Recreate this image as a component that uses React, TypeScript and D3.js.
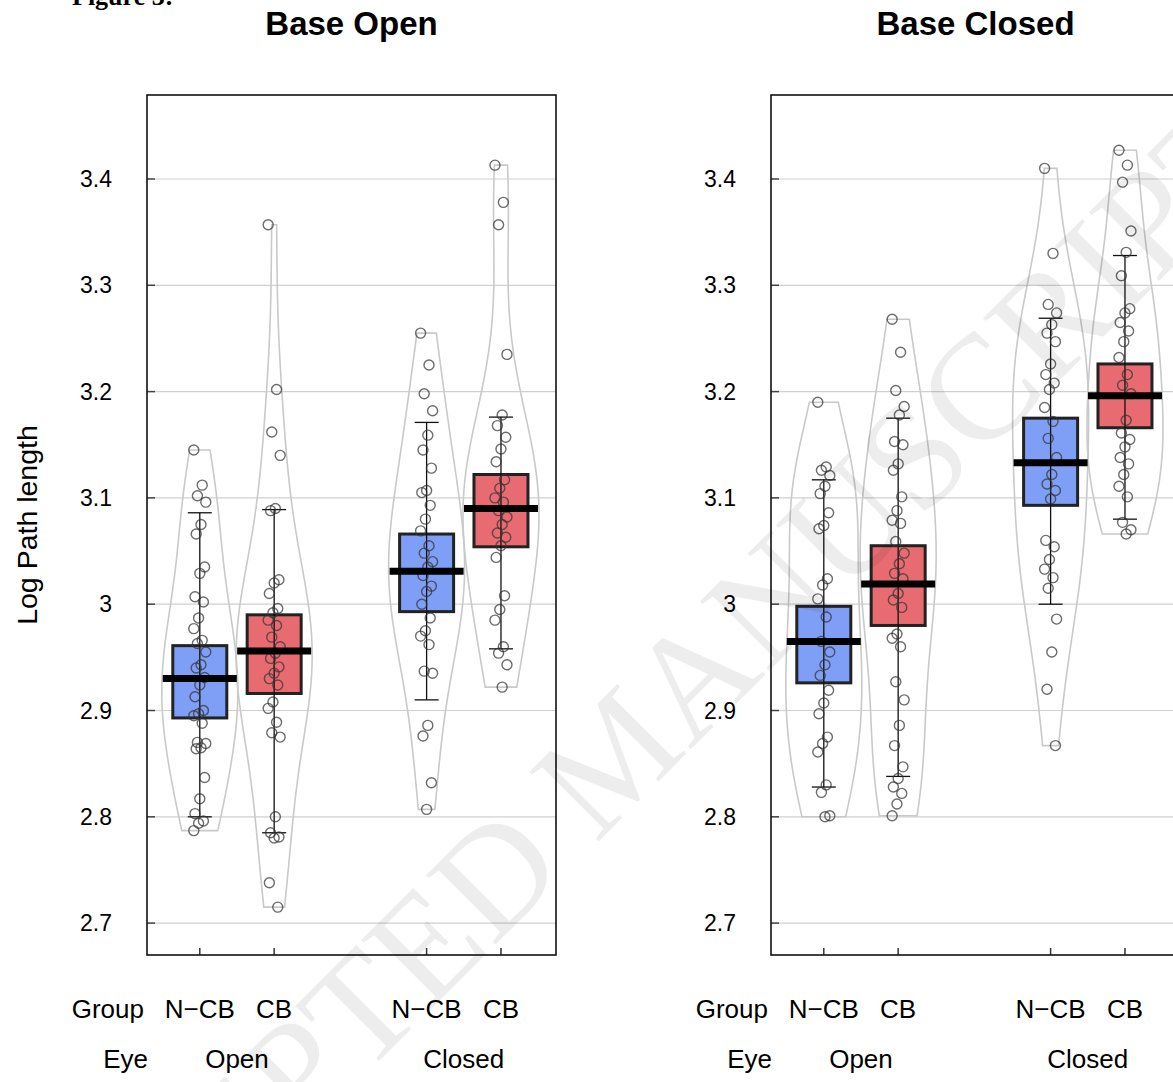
import React from "react";
import * as d3 from "d3";

const panelTitles = ["Base Open", "Base Closed"];
const groupLabels = ["N−CB", "CB", "N−CB", "CB"];
const eyeLabels = ["Open", "Closed"];
const yTicks = [2.7, 2.8, 2.9, 3.0, 3.1, 3.2, 3.3, 3.4];
const yTickLabels = ["2.7", "2.8", "2.9", "3", "3.1", "3.2", "3.3", "3.4"];
const slotPositions = [1, 2, 4.05, 5.05];
const groupColors = ["#7f9ef5", "#e96b72", "#7f9ef5", "#e96b72"];

// Base Open panel – individual log path lengths
const openPanelNcbOpen = [3.145, 3.112, 3.102, 3.096, 3.075, 3.066, 3.035, 3.029, 3.007, 3.002, 2.987, 2.977, 2.966, 2.963, 2.955, 2.943, 2.94, 2.931, 2.924, 2.913, 2.9, 2.897, 2.895, 2.888, 2.87, 2.869, 2.865, 2.864, 2.837, 2.817, 2.803, 2.796, 2.794, 2.787];
const openPanelCbOpen = [3.357, 3.202, 3.162, 3.14, 3.09, 3.088, 3.023, 3.02, 3.01, 2.996, 2.992, 2.985, 2.98, 2.969, 2.96, 2.954, 2.949, 2.941, 2.935, 2.93, 2.924, 2.908, 2.902, 2.889, 2.879, 2.875, 2.8, 2.785, 2.781, 2.78, 2.738, 2.715];
const openPanelNcbClosed = [3.255, 3.225, 3.198, 3.182, 3.159, 3.145, 3.128, 3.107, 3.105, 3.093, 3.08, 3.069, 3.055, 3.048, 3.04, 3.035, 3.027, 3.017, 3.012, 3.0, 2.987, 2.975, 2.97, 2.962, 2.937, 2.935, 2.886, 2.876, 2.832, 2.807];
const openPanelCbClosed = [3.413, 3.378, 3.357, 3.235, 3.178, 3.168, 3.157, 3.146, 3.134, 3.117, 3.109, 3.1, 3.096, 3.088, 3.082, 3.075, 3.067, 3.063, 3.055, 3.044, 3.008, 2.995, 2.985, 2.96, 2.954, 2.943, 2.922];

// Base Closed panel – individual log path lengths
const closedPanelNcbOpen = [3.19, 3.129, 3.126, 3.121, 3.111, 3.104, 3.086, 3.074, 3.071, 3.024, 3.018, 3.005, 2.988, 2.965, 2.955, 2.943, 2.933, 2.919, 2.907, 2.897, 2.875, 2.869, 2.861, 2.83, 2.823, 2.801, 2.8];
const closedPanelCbOpen = [3.268, 3.237, 3.201, 3.186, 3.178, 3.153, 3.15, 3.132, 3.126, 3.101, 3.088, 3.079, 3.076, 3.059, 3.048, 3.038, 3.029, 3.024, 3.01, 3.004, 2.997, 2.972, 2.968, 2.96, 2.927, 2.91, 2.886, 2.867, 2.847, 2.836, 2.828, 2.822, 2.812, 2.801];
const closedPanelNcbClosed = [3.41, 3.33, 3.282, 3.274, 3.263, 3.255, 3.247, 3.226, 3.216, 3.208, 3.202, 3.185, 3.172, 3.156, 3.138, 3.122, 3.113, 3.107, 3.099, 3.06, 3.054, 3.042, 3.033, 3.025, 3.015, 2.986, 2.955, 2.92, 2.867];
const closedPanelCbClosed = [3.427, 3.413, 3.397, 3.351, 3.331, 3.309, 3.278, 3.274, 3.265, 3.257, 3.247, 3.232, 3.216, 3.206, 3.198, 3.173, 3.161, 3.155, 3.148, 3.138, 3.132, 3.122, 3.111, 3.101, 3.077, 3.07, 3.066];

// Summary statistics
const openPanelMeans = [2.93, 2.956, 3.031, 3.09];
const openPanelBoxLow = [2.893, 2.916, 2.993, 3.054];
const openPanelBoxHigh = [2.961, 2.99, 3.066, 3.122];
const openPanelWhiskLow = [2.8, 2.785, 2.91, 2.958];
const openPanelWhiskHigh = [3.086, 3.089, 3.171, 3.176];

const closedPanelMeans = [2.965, 3.019, 3.133, 3.196];
const closedPanelBoxLow = [2.926, 2.98, 3.093, 3.166];
const closedPanelBoxHigh = [2.998, 3.055, 3.175, 3.226];
const closedPanelWhiskLow = [2.828, 2.838, 3.0, 3.08];
const closedPanelWhiskHigh = [3.117, 3.175, 3.269, 3.328];

const panelsData = [
  {
    title: panelTitles[0],
    points: [openPanelNcbOpen, openPanelCbOpen, openPanelNcbClosed, openPanelCbClosed],
    means: openPanelMeans, boxLow: openPanelBoxLow, boxHigh: openPanelBoxHigh,
    whiskLow: openPanelWhiskLow, whiskHigh: openPanelWhiskHigh,
  },
  {
    title: panelTitles[1],
    points: [closedPanelNcbOpen, closedPanelCbOpen, closedPanelNcbClosed, closedPanelCbClosed],
    means: closedPanelMeans, boxLow: closedPanelBoxLow, boxHigh: closedPanelBoxHigh,
    whiskLow: closedPanelWhiskLow, whiskHigh: closedPanelWhiskHigh,
  },
];

const W = 1173;
const H = 1082;
const FRAME_TOP = 95;
const FRAME_BOTTOM = 955;
const FRAME_W = 409;
const PANEL_LEFTS = [147, 771];
const SANS = "'Liberation Sans', Arial, Helvetica, sans-serif";

const y = d3.scaleLinear().domain([2.67, 3.479]).range([FRAME_BOTTOM, FRAME_TOP]);

function violinPath(values: number[], cx: number, halfWidth: number) {
  const n = values.length;
  const sd = d3.deviation(values) || 0.05;
  const h = 1.06 * sd * Math.pow(n, -0.2);
  const [lo, hi] = d3.extent(values) as [number, number];
  const steps = 80;
  const grid = d3.range(steps + 1).map((i) => lo + ((hi - lo) * i) / steps);
  const dens = grid.map((g) => d3.sum(values, (v) => Math.exp(-0.5 * ((g - v) / h) ** 2)));
  const maxD = d3.max(dens) || 1;
  const wScale = d3.scaleLinear().domain([0, maxD]).range([0, halfWidth]);
  const right = grid.map((g, i) => [cx + wScale(dens[i]), y(g)] as [number, number]);
  const left = grid.map((g, i) => [cx - wScale(dens[i]), y(g)] as [number, number]).reverse();
  return d3.line().curve(d3.curveLinear)([...right, ...left]) + "Z";
}

const jitter = (i: number) => (((i * 7) % 11) - 5) * 1.2;

function Panel({ data, left, showYLabel }: any) {
  const x = d3.scaleLinear().domain([0.29, 5.79]).range([left, left + FRAME_W]);
  const xs = slotPositions.map((p) => x(p));
  return (
    <g>
      <text x={left + FRAME_W / 2} y={35} textAnchor="middle" fontFamily={SANS} fontWeight="bold" fontSize={33}>
        {data.title}
      </text>
      {yTicks.map((t) => (
        <line key={"g" + t} x1={left} x2={left + FRAME_W} y1={y(t)} y2={y(t)} stroke="#d0d0d0" strokeWidth={1.2} />
      ))}
      {yTicks.map((t, i) => (
        <g key={"t" + t}>
          <line x1={left} x2={left + 8} y1={y(t)} y2={y(t)} stroke="#444" strokeWidth={1.5} />
          <text x={left - 35} y={y(t) + 8} textAnchor="end" fontFamily={SANS} fontSize={23}>
            {yTickLabels[i]}
          </text>
        </g>
      ))}
      {xs.map((cx, i) => (
        <line key={"xt" + i} x1={cx} x2={cx} y1={FRAME_BOTTOM} y2={FRAME_BOTTOM - 7} stroke="#333" strokeWidth={1.5} />
      ))}
      {data.points.map((vals: number[], i: number) => (
        <path key={"v" + i} d={violinPath(vals, xs[i], 38)} fill="none" stroke="#c9c9c9" strokeWidth={1.6} />
      ))}
      {xs.map((cx, i) => (
        <g key={"b" + i}>
          <rect
            x={cx - 27}
            y={y(data.boxHigh[i])}
            width={54}
            height={y(data.boxLow[i]) - y(data.boxHigh[i])}
            fill={groupColors[i]}
            stroke="#222"
            strokeWidth={3}
          />
          <line x1={cx} x2={cx} y1={y(data.whiskHigh[i])} y2={y(data.whiskLow[i])} stroke="#111" strokeWidth={1.3} />
          <line x1={cx - 12} x2={cx + 12} y1={y(data.whiskHigh[i])} y2={y(data.whiskHigh[i])} stroke="#111" strokeWidth={1.3} />
          <line x1={cx - 12} x2={cx + 12} y1={y(data.whiskLow[i])} y2={y(data.whiskLow[i])} stroke="#111" strokeWidth={1.3} />
        </g>
      ))}
      {data.points.map((vals: number[], gi: number) =>
        vals.map((v, i) => (
          <circle
            key={"p" + gi + "_" + i}
            cx={xs[gi] + jitter(i)}
            cy={y(v)}
            r={5}
            fill="none"
            stroke="#333"
            strokeOpacity={0.72}
            strokeWidth={1.4}
          />
        ))
      )}
      {xs.map((cx, i) => (
        <line key={"m" + i} x1={cx - 37} x2={cx + 37} y1={y(data.means[i])} y2={y(data.means[i])} stroke="#000" strokeWidth={7} />
      ))}
      <rect x={left} y={FRAME_TOP} width={FRAME_W} height={FRAME_BOTTOM - FRAME_TOP} fill="none" stroke="#111" strokeWidth={1.6} />
      <text x={left - 3} y={1018} textAnchor="end" fontFamily={SANS} fontSize={26}>Group</text>
      {xs.map((cx, i) => (
        <text key={"gl" + i} x={cx} y={1018} textAnchor="middle" fontFamily={SANS} fontSize={26}>
          {groupLabels[i]}
        </text>
      ))}
      <text x={left + 1} y={1068} textAnchor="end" fontFamily={SANS} fontSize={26}>Eye</text>
      <text x={(xs[0] + xs[1]) / 2} y={1068} textAnchor="middle" fontFamily={SANS} fontSize={26}>{eyeLabels[0]}</text>
      <text x={(xs[2] + xs[3]) / 2} y={1068} textAnchor="middle" fontFamily={SANS} fontSize={26}>{eyeLabels[1]}</text>
      {showYLabel && (
        <text transform={`translate(37, 525) rotate(-90)`} textAnchor="middle" fontFamily={SANS} fontSize={28.5}>
          Log Path length
        </text>
      )}
    </g>
  );
}

export default function App() {
  return (
    <svg
      width={W}
      height={H}
      viewBox={`0 0 ${W} ${H}`}
      style={{ position: "absolute", left: 0, top: 0, display: "block", background: "#fff" }}
    >
      <rect x={0} y={0} width={W} height={H} fill="#fff" />
      <text x={72} y={5} fontFamily="'Liberation Serif', 'Times New Roman', serif" fontWeight="bold" fontSize={26}>
        Figure 3:
      </text>
      {panelsData.map((p, i) => (
        <Panel key={i} data={p} left={PANEL_LEFTS[i]} showYLabel={i === 0} />
      ))}
      <text
        transform="translate(650, 790) rotate(-45)"
        textAnchor="middle"
        fontFamily="'Liberation Serif', 'Times New Roman', serif"
        fontSize={150}
        fill="#000"
        fillOpacity={0.07}
      >
        ACCEPTED MANUSCRIPT
      </text>
    </svg>
  );
}
